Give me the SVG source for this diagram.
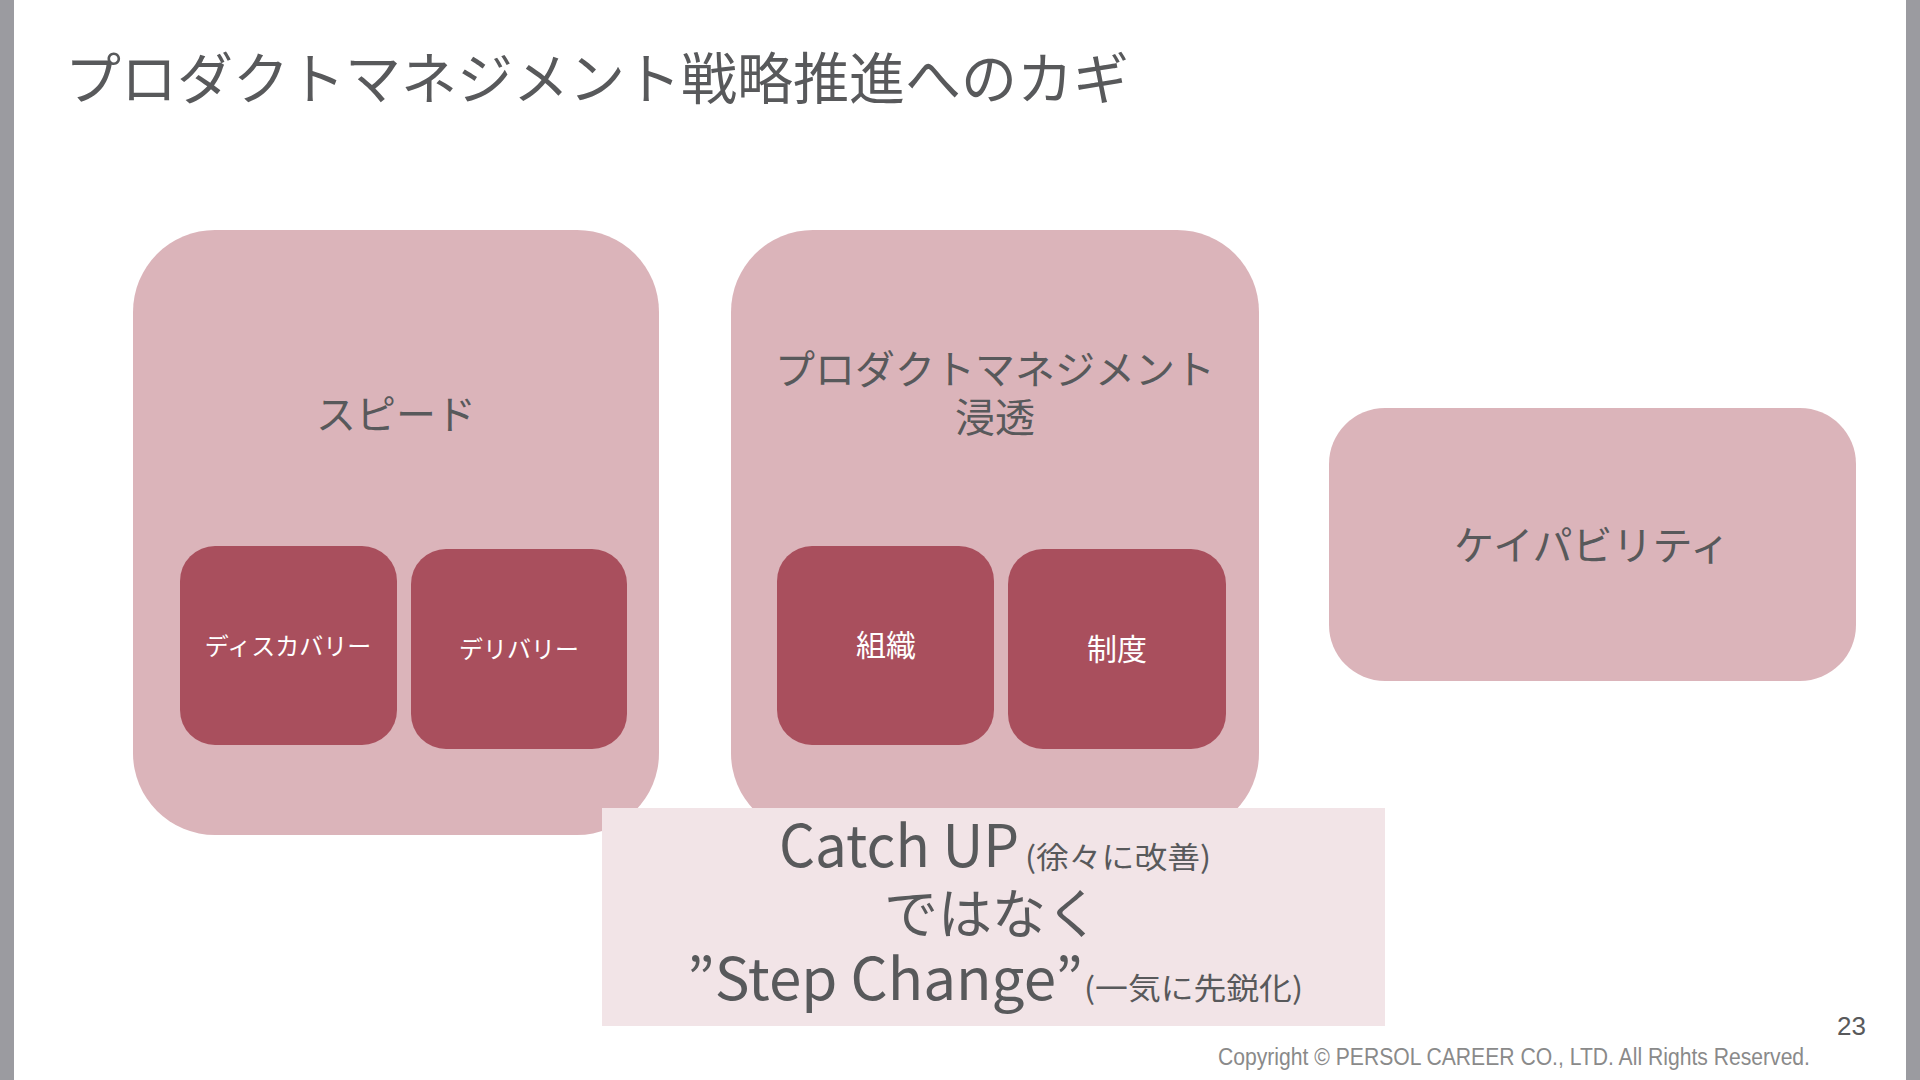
<svg xmlns="http://www.w3.org/2000/svg" width="1920" height="1080" viewBox="0 0 1920 1080">
  <style>
    .jp { font-family: "Noto Sans CJK JP", "Noto Sans", sans-serif; }
    .dark { fill: #58595b; }
    .white { fill: #ffffff; }
    .outer { fill: #dbb4ba; }
    .inner { fill: #a94f5d; }
    .note { fill: #f2e4e7; }
    .bar { fill: #9b9ba0; }
    .c { text-anchor: middle; dominant-baseline: central; }
  </style>
  <rect x="0" y="0" width="1920" height="1080" fill="#ffffff"/>
  <rect class="bar" x="0" y="0" width="14" height="1080"/>
  <rect class="bar" x="1906" y="0" width="14" height="1080"/>

  <g id="title">
    <text class="jp dark" x="65" y="74" font-size="56" dominant-baseline="central">プロダクトマネジメント戦略推進へのカギ</text>
  </g>

  <g id="speed">
    <rect class="outer" x="133" y="230" width="526" height="605" rx="82" ry="82"/>
    <text class="jp dark c" x="396" y="412" font-size="40">スピード</text>
  </g>
  <g id="discovery">
    <rect class="inner" x="180" y="546" width="217" height="199" rx="35" ry="35"/>
    <text class="jp white c" x="288" y="644" font-size="24">ディスカバリー</text>
  </g>
  <g id="delivery">
    <rect class="inner" x="411" y="549" width="216" height="200" rx="35" ry="35"/>
    <text class="jp white c" x="519" y="647" font-size="24">デリバリー</text>
  </g>

  <g id="pm">
    <rect class="outer" x="731" y="230" width="528" height="605" rx="82" ry="82"/>
    <text class="jp dark c" x="995" y="367" font-size="40">プロダクトマネジメント</text>
    <text class="jp dark c" x="995" y="415" font-size="40">浸透</text>
  </g>
  <g id="org">
    <rect class="inner" x="777" y="546" width="217" height="199" rx="35" ry="35"/>
    <text class="jp white c" x="886" y="643" font-size="30">組織</text>
  </g>
  <g id="system">
    <rect class="inner" x="1008" y="549" width="218" height="200" rx="35" ry="35"/>
    <text class="jp white c" x="1117" y="647" font-size="30">制度</text>
  </g>

  <g id="capability">
    <rect class="outer" x="1329" y="408" width="527" height="273" rx="56" ry="56"/>
    <text class="jp dark c" x="1592" y="543" font-size="40">ケイパビリティ</text>
  </g>

  <g id="connectors"/>

  <g id="message">
    <rect class="note" x="602" y="808" width="783" height="218"/>
    <text class="jp dark" x="779" y="867" font-size="58" textLength="240" lengthAdjust="spacingAndGlyphs">Catch UP</text>
    <text class="jp dark" x="1025" y="868" font-size="30" textLength="186" lengthAdjust="spacingAndGlyphs">(徐々に改善)</text>
    <text class="jp dark c" x="992" y="910" font-size="54">ではなく</text>
    <text class="jp dark" x="687" y="1000" font-size="58" textLength="396" lengthAdjust="spacingAndGlyphs">”Step Change”</text>
    <text class="jp dark" x="1084" y="999" font-size="30" textLength="219" lengthAdjust="spacingAndGlyphs">(一気に先鋭化)</text>
  </g>

  <g id="footer">
    <text x="1866" y="1035" font-size="26" text-anchor="end" fill="#58595b" font-family="'Liberation Sans', sans-serif">23</text>
    <text x="1218" y="1065" font-size="23" fill="#8a8a8a" font-family="'Liberation Sans', sans-serif" textLength="592" lengthAdjust="spacingAndGlyphs">Copyright © PERSOL CAREER CO., LTD. All Rights Reserved.</text>
  </g>
</svg>
